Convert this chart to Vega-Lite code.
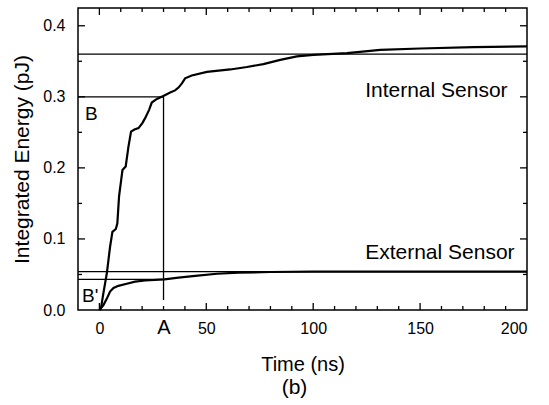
{
  "$schema": "https://vega.github.io/schema/vega-lite/v6.json",
  "width": 449,
  "height": 302,
  "autosize": {"type": "none"},
  "padding": {"left": 78, "top": 8, "right": 22, "bottom": 95},
  "background": "white",
  "view": {"stroke": "black", "strokeWidth": 1.5},
  "config": {
    "axis": {
      "domain": false,
      "grid": false,
      "labelFont": "Liberation Sans",
      "titleFont": "Liberation Sans",
      "titleFontWeight": "normal"
    }
  },
  "title": {
    "text": "(b)",
    "orient": "bottom",
    "anchor": "middle",
    "fontSize": 21,
    "fontWeight": "normal",
    "font": "Liberation Sans",
    "color": "black",
    "offset": 3,
    "dx": -8
  },
  "datasets": {
    "curves": [
      {"series": "Internal", "t": 0, "e": 0},
      {"series": "Internal", "t": 0.7, "e": 0.002},
      {"series": "Internal", "t": 1.9, "e": 0.024},
      {"series": "Internal", "t": 3.5, "e": 0.052},
      {"series": "Internal", "t": 5.0, "e": 0.089},
      {"series": "Internal", "t": 6.1, "e": 0.110},
      {"series": "Internal", "t": 7.7, "e": 0.114},
      {"series": "Internal", "t": 8.4, "e": 0.122},
      {"series": "Internal", "t": 9.2, "e": 0.160},
      {"series": "Internal", "t": 10.2, "e": 0.183},
      {"series": "Internal", "t": 10.8, "e": 0.197},
      {"series": "Internal", "t": 12.3, "e": 0.202},
      {"series": "Internal", "t": 13.6, "e": 0.230},
      {"series": "Internal", "t": 14.8, "e": 0.251},
      {"series": "Internal", "t": 16.4, "e": 0.254},
      {"series": "Internal", "t": 18.3, "e": 0.256},
      {"series": "Internal", "t": 20.1, "e": 0.263},
      {"series": "Internal", "t": 21.4, "e": 0.270},
      {"series": "Internal", "t": 23.3, "e": 0.282},
      {"series": "Internal", "t": 24.5, "e": 0.292},
      {"series": "Internal", "t": 26.9, "e": 0.297},
      {"series": "Internal", "t": 30.4, "e": 0.302},
      {"series": "Internal", "t": 33.1, "e": 0.306},
      {"series": "Internal", "t": 35.4, "e": 0.309},
      {"series": "Internal", "t": 37.0, "e": 0.313},
      {"series": "Internal", "t": 38.6, "e": 0.319},
      {"series": "Internal", "t": 40.1, "e": 0.326},
      {"series": "Internal", "t": 43.2, "e": 0.330},
      {"series": "Internal", "t": 50.3, "e": 0.335},
      {"series": "Internal", "t": 61.2, "e": 0.3385},
      {"series": "Internal", "t": 69.0, "e": 0.342},
      {"series": "Internal", "t": 76.7, "e": 0.346},
      {"series": "Internal", "t": 84.6, "e": 0.352},
      {"series": "Internal", "t": 92.4, "e": 0.357},
      {"series": "Internal", "t": 100.1, "e": 0.359},
      {"series": "Internal", "t": 115.8, "e": 0.3615},
      {"series": "Internal", "t": 131.4, "e": 0.366},
      {"series": "Internal", "t": 150, "e": 0.368},
      {"series": "Internal", "t": 175, "e": 0.370},
      {"series": "Internal", "t": 200, "e": 0.371},
      {"series": "External", "t": 0, "e": 0},
      {"series": "External", "t": 1.9, "e": 0.007},
      {"series": "External", "t": 3.5, "e": 0.016},
      {"series": "External", "t": 5.0, "e": 0.026},
      {"series": "External", "t": 6.6, "e": 0.031},
      {"series": "External", "t": 8.9, "e": 0.034},
      {"series": "External", "t": 12.8, "e": 0.037},
      {"series": "External", "t": 16.7, "e": 0.040},
      {"series": "External", "t": 21.4, "e": 0.0415},
      {"series": "External", "t": 30.4, "e": 0.043},
      {"series": "External", "t": 37, "e": 0.0455},
      {"series": "External", "t": 44.8, "e": 0.048},
      {"series": "External", "t": 55, "e": 0.051},
      {"series": "External", "t": 65, "e": 0.0525},
      {"series": "External", "t": 80, "e": 0.0535},
      {"series": "External", "t": 100, "e": 0.054},
      {"series": "External", "t": 150, "e": 0.054},
      {"series": "External", "t": 200, "e": 0.054}
    ],
    "hrefs": [
      {"t1": -10, "t2": 200, "e": 0.36},
      {"t1": -10, "t2": 30, "e": 0.3},
      {"t1": -10, "t2": 200, "e": 0.054},
      {"t1": -10, "t2": 30, "e": 0.043}
    ],
    "vrefs": [
      {"t": 30, "e1": 0.014, "e2": 0.3}
    ],
    "letters": [
      {"label": "B", "t": -6.7, "e": 0.2676},
      {"label": "B'", "t": -8.1, "e": 0.0117}
    ],
    "sensors": [
      {"label": "Internal Sensor", "t": 124.3, "e": 0.3004},
      {"label": "External Sensor", "t": 124.3, "e": 0.0718}
    ],
    "xmajor": [{"t": 0}, {"t": 50}, {"t": 100}, {"t": 150}],
    "xminor": [{"t": 10}, {"t": 20}, {"t": 30}, {"t": 40}, {"t": 60}, {"t": 70}, {"t": 80}, {"t": 90}, {"t": 110}, {"t": 120}, {"t": 130}, {"t": 140}, {"t": 160}, {"t": 170}, {"t": 180}, {"t": 190}],
    "ymajor": [{"e": 0.1}, {"e": 0.2}, {"e": 0.3}, {"e": 0.4}],
    "yminor": [{"e": 0.05}, {"e": 0.15}, {"e": 0.25}, {"e": 0.35}]
  },
  "resolve": {"axis": {"x": "independent", "y": "independent"}},
  "layer": [
    {
      "data": {"name": "curves"},
      "mark": {"type": "line", "color": "black", "strokeWidth": 2.2, "interpolate": "linear"},
      "encoding": {
        "x": {
          "field": "t", "type": "quantitative",
          "scale": {"domain": [-10, 200], "nice": false, "zero": false},
          "axis": {
            "orient": "bottom",
            "values": [0, 50, 100, 150, 200],
            "ticks": false,
            "labelPadding": 23,
            "labelBaseline": "alphabetic",
            "labelFontSize": 16,
            "labelColor": "black",
            "title": "Time (ns)",
            "titleColor": "black",
            "titleFontSize": 20,
            "titleBaseline": "alphabetic",
            "titleY": 60,
            "titleX": 224.5
          }
        },
        "y": {
          "field": "e", "type": "quantitative",
          "scale": {"domain": [0, 0.425], "nice": false, "zero": false},
          "axis": {
            "orient": "left",
            "values": [0, 0.1, 0.2, 0.3, 0.4],
            "format": ".1f",
            "ticks": false,
            "labelPadding": 13,
            "labelFontSize": 16,
            "labelColor": "black",
            "title": "Integrated Energy (pJ)",
            "titleColor": "black",
            "titleFontSize": 21,
            "titleBaseline": "alphabetic",
            "titleX": -50,
            "titleY": 151
          }
        },
        "detail": {"field": "series", "type": "nominal"}
      }
    },
    {
      "data": {"name": "hrefs"},
      "mark": {"type": "rule", "color": "black", "strokeWidth": 1.3},
      "encoding": {
        "x": {"field": "t1", "type": "quantitative", "scale": {"domain": [-10, 200], "nice": false, "zero": false}, "axis": null},
        "x2": {"field": "t2"},
        "y": {"field": "e", "type": "quantitative", "scale": {"domain": [0, 0.425], "nice": false, "zero": false}, "axis": null}
      }
    },
    {
      "data": {"name": "vrefs"},
      "mark": {"type": "rule", "color": "black", "strokeWidth": 1.3},
      "encoding": {
        "x": {"field": "t", "type": "quantitative", "scale": {"domain": [-10, 200], "nice": false, "zero": false}, "axis": null},
        "y": {"field": "e1", "type": "quantitative", "scale": {"domain": [0, 0.425], "nice": false, "zero": false}, "axis": null},
        "y2": {"field": "e2"}
      }
    },
    {
      "data": {"name": "letters"},
      "mark": {"type": "text", "color": "black", "fontSize": 19, "font": "Liberation Sans", "align": "left", "baseline": "alphabetic"},
      "encoding": {
        "x": {"field": "t", "type": "quantitative", "scale": {"domain": [-10, 200], "nice": false, "zero": false}, "axis": null},
        "y": {"field": "e", "type": "quantitative", "scale": {"domain": [0, 0.425], "nice": false, "zero": false}, "axis": null},
        "text": {"field": "label", "type": "nominal"}
      }
    },
    {
      "data": {"name": "sensors"},
      "mark": {"type": "text", "color": "black", "fontSize": 21, "font": "Liberation Sans", "align": "left", "baseline": "alphabetic"},
      "encoding": {
        "x": {
          "field": "t", "type": "quantitative",
          "scale": {"domain": [-10, 200], "nice": false, "zero": false},
          "axis": {
            "orient": "bottom",
            "values": [30],
            "ticks": false,
            "labelPadding": 23,
            "labelBaseline": "alphabetic",
            "labelFontSize": 20,
            "labelColor": "black",
            "labelExpr": "'A'",
            "title": null
          }
        },
        "y": {"field": "e", "type": "quantitative", "scale": {"domain": [0, 0.425], "nice": false, "zero": false}, "axis": null},
        "text": {"field": "label", "type": "nominal"}
      }
    },
    {
      "data": {"name": "xmajor"},
      "mark": {"type": "tick", "orient": "vertical", "clip": true, "color": "black", "thickness": 1.3, "size": 14, "opacity": 1},
      "encoding": {
        "x": {"field": "t", "type": "quantitative", "scale": {"domain": [-10, 200], "nice": false, "zero": false}, "axis": null},
        "y": {"datum": 0, "type": "quantitative", "axis": null}
      }
    },
    {
      "data": {"name": "xmajor"},
      "mark": {"type": "tick", "orient": "vertical", "clip": true, "color": "black", "thickness": 1.3, "size": 14, "opacity": 1},
      "encoding": {
        "x": {"field": "t", "type": "quantitative", "scale": {"domain": [-10, 200], "nice": false, "zero": false}, "axis": null},
        "y": {"datum": 0.425, "type": "quantitative", "axis": null}
      }
    },
    {
      "data": {"name": "xminor"},
      "mark": {"type": "tick", "orient": "vertical", "clip": true, "color": "black", "thickness": 1.3, "size": 8, "opacity": 1},
      "encoding": {
        "x": {"field": "t", "type": "quantitative", "scale": {"domain": [-10, 200], "nice": false, "zero": false}, "axis": null},
        "y": {"datum": 0, "type": "quantitative", "axis": null}
      }
    },
    {
      "data": {"name": "xminor"},
      "mark": {"type": "tick", "orient": "vertical", "clip": true, "color": "black", "thickness": 1.3, "size": 8, "opacity": 1},
      "encoding": {
        "x": {"field": "t", "type": "quantitative", "scale": {"domain": [-10, 200], "nice": false, "zero": false}, "axis": null},
        "y": {"datum": 0.425, "type": "quantitative", "axis": null}
      }
    },
    {
      "data": {"name": "ymajor"},
      "mark": {"type": "tick", "orient": "horizontal", "clip": true, "color": "black", "thickness": 1.3, "size": 14, "opacity": 1},
      "encoding": {
        "y": {"field": "e", "type": "quantitative", "scale": {"domain": [0, 0.425], "nice": false, "zero": false}, "axis": null},
        "x": {"datum": -10, "type": "quantitative", "axis": null}
      }
    },
    {
      "data": {"name": "ymajor"},
      "mark": {"type": "tick", "orient": "horizontal", "clip": true, "color": "black", "thickness": 1.3, "size": 14, "opacity": 1},
      "encoding": {
        "y": {"field": "e", "type": "quantitative", "scale": {"domain": [0, 0.425], "nice": false, "zero": false}, "axis": null},
        "x": {"datum": 200, "type": "quantitative", "axis": null}
      }
    },
    {
      "data": {"name": "yminor"},
      "mark": {"type": "tick", "orient": "horizontal", "clip": true, "color": "black", "thickness": 1.3, "size": 8, "opacity": 1},
      "encoding": {
        "y": {"field": "e", "type": "quantitative", "scale": {"domain": [0, 0.425], "nice": false, "zero": false}, "axis": null},
        "x": {"datum": -10, "type": "quantitative", "axis": null}
      }
    },
    {
      "data": {"name": "yminor"},
      "mark": {"type": "tick", "orient": "horizontal", "clip": true, "color": "black", "thickness": 1.3, "size": 8, "opacity": 1},
      "encoding": {
        "y": {"field": "e", "type": "quantitative", "scale": {"domain": [0, 0.425], "nice": false, "zero": false}, "axis": null},
        "x": {"datum": 200, "type": "quantitative", "axis": null}
      }
    }
  ]
}
